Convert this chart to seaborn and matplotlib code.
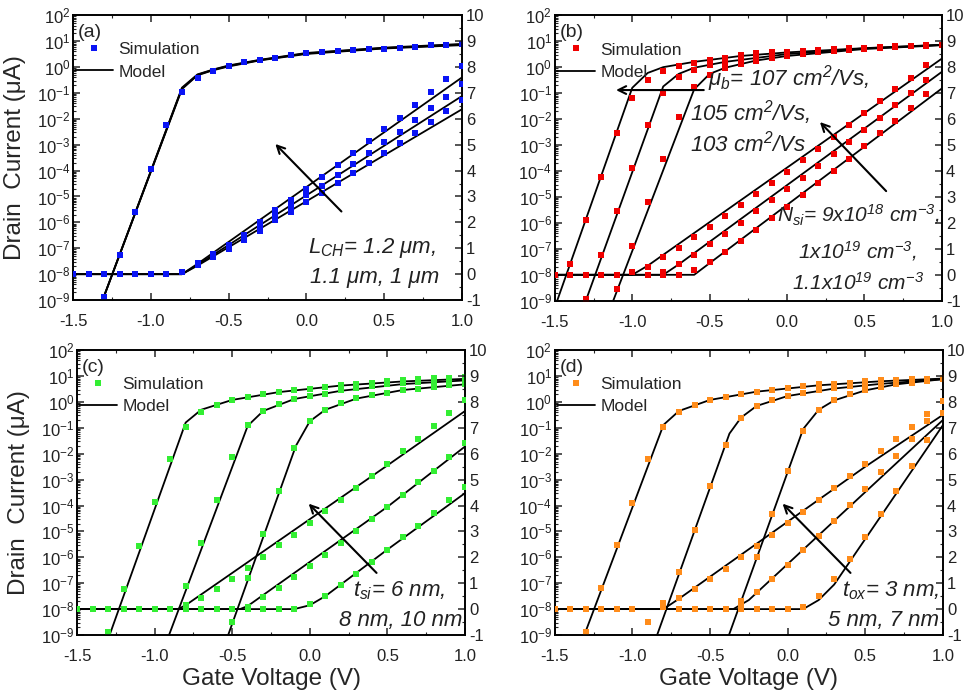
import numpy as np
import matplotlib
matplotlib.use("Agg")
import matplotlib.pyplot as plt
import seaborn as sns
from matplotlib.lines import Line2D
from matplotlib.ticker import LogLocator, NullFormatter, MultipleLocator, FormatStrFormatter

# ---------------- datos ----------------
# (a) variacion de L_CH
a_log_x = [-1.3, -1.2, -1.1, -1.0, -0.9, -0.8, -0.7, -0.6, -0.5, -0.4, -0.3, -0.2,
           -0.1, 0.0, 0.1, 0.2, 0.3, 0.4, 0.5, 0.6, 0.7, 0.8, 0.9, 1.0]
a_log_y = [1.3e-9, 5.4e-8, 2.5e-6, 1.2e-4, 5.8e-3, 0.11, 0.38, 0.72, 1.1, 1.5, 1.8, 2.3,
           2.8, 3.4, 3.8, 4.1, 4.4, 4.8, 5.1, 5.5, 6.2, 6.8, 7.2, 7.6]
a_off_x = [-1.5, -1.4, -1.3, -1.2, -1.1, -1.0, -0.9, -0.8]
a_off_y = [0, 0, 0, 0, 0, 0, 0, 0.09]
a_lin_x = [-0.7, -0.6, -0.5, -0.4, -0.3, -0.2, -0.1, 0.0, 0.1, 0.2, 0.3, 0.4, 0.5, 0.6, 0.7, 0.8, 0.9, 1.0]
a_lin_y1 = [0.35, 0.67, 0.98, 1.33, 1.67, 2.1, 2.4, 2.78, 3.13, 3.51, 3.9, 4.29, 4.68, 5.06, 5.47, 5.88, 6.3, 6.73]
a_lin_y2 = [0.4, 0.72, 1.05, 1.42, 1.85, 2.28, 2.62, 3.05, 3.42, 3.83, 4.26, 4.67, 5.09, 5.51, 5.96, 6.4, 6.86, 7.33]
a_lin_y3 = [0.45, 0.77, 1.12, 1.5, 2.0, 2.46, 2.85, 3.3, 3.77, 4.22, 4.67, 5.13, 5.6, 6.05, 6.54, 7.05, 7.53, 8.04]
a_mlog_x = [-1.31, -0.8, -0.7, -0.6, -0.5, -0.3, 0.0, 0.5, 1.0]
a_mlog_y1 = [1e-9, 0.14, 0.48, 0.75, 1.05, 1.8, 3.2, 5.2, 7.0]
a_mlog_y2 = [1e-9, 0.15, 0.5, 0.78, 1.1, 1.85, 3.35, 5.4, 7.4]
a_mlog_y3 = [1e-9, 0.16, 0.52, 0.8, 1.15, 1.9, 3.5, 5.6, 7.8]
a_mlin_x = [-1.5, -0.8, -0.7, 1.0]
a_mlin_y1 = [0, 0, 0.33, 6.37]
a_mlin_y2 = [0, 0, 0.36, 6.88]
a_mlin_y3 = [0, 0, 0.4, 7.6]

# (b) variacion de mu_b y N_si
b_log_x1 = [-1.4, -1.3, -1.2, -1.1, -1.0, -0.9, -0.8, -0.7, -0.6, -0.5, -0.4, -0.3, -0.2,
            -0.1, 0.0, 0.1, 0.2, 0.3, 0.4, 0.5, 0.6, 0.7, 0.8, 0.9, 1.0]
b_log_y1 = [2.6e-8, 1.3e-6, 6e-5, 2.8e-3, 0.066, 0.32, 0.7, 1.07, 1.47, 1.86, 2.35, 2.9, 3.4,
            3.7, 4.0, 4.3, 4.6, 5.0, 5.3, 5.6, 6.0, 6.3, 6.6, 6.9, 7.1]
b_log_x2 = [-1.3, -1.2, -1.1, -1.0, -0.9, -0.8, -0.7, -0.6, -0.5, -0.4, -0.3, -0.2,
            -0.1, 0.0, 0.1, 0.2, 0.3, 0.4, 0.5, 0.6, 0.7, 0.8, 0.9, 1.0]
b_log_y2 = [1.2e-9, 5.9e-8, 2.9e-6, 1.35e-4, 5.9e-3, 0.1, 0.4, 0.78, 1.2, 1.6, 2.0, 2.4,
            2.9, 3.3, 3.7, 4.1, 4.5, 4.9, 5.3, 5.7, 6.1, 6.5, 6.9, 7.2]
b_log_x3 = [-1.1, -1.0, -0.9, -0.8, -0.7, -0.6, -0.5, -0.4, -0.3, -0.2, -0.1, 0.0,
            0.1, 0.2, 0.3, 0.4, 0.5, 0.6, 0.7, 0.8, 0.9, 1.0]
b_log_y3 = [2.8e-9, 1.3e-7, 6.5e-6, 3e-4, 0.012, 0.166, 0.49, 0.9, 1.38, 1.8, 2.3, 2.8,
            3.3, 3.7, 4.2, 4.6, 5.0, 5.5, 5.9, 6.3, 6.7, 7.0]
b_off_x = [-1.5, -1.4, -1.3, -1.2, -1.1, -0.9, -0.8, -0.7]
b_off_y = [0, 0, 0, 0, 0, 0, 0, 0]
b_lin_x1 = [-1.0, -0.9, -0.8, -0.7, -0.6, -0.5, -0.4, -0.3, -0.2, -0.1, 0.0, 0.1, 0.2, 0.3,
            0.4, 0.5, 0.6, 0.7, 0.8, 0.9]
b_lin_y1 = [0.09, 0.32, 0.68, 1.05, 1.45, 1.86, 2.27, 2.69, 3.12, 3.55, 3.97, 4.42, 4.86, 5.32,
            5.77, 6.22, 6.69, 7.14, 7.6, 8.08]
b_lin_x2 = [-0.8, -0.7, -0.6, -0.5, -0.4, -0.3, -0.2, -0.1, 0.0, 0.1, 0.2, 0.3, 0.4, 0.5,
            0.6, 0.7, 0.8, 0.9]
b_lin_y2 = [0.1, 0.41, 0.77, 1.18, 1.56, 2.01, 2.44, 2.88, 3.29, 3.74, 4.19, 4.65, 5.13, 5.58,
            6.06, 6.54, 7.01, 7.5]
b_lin_x3 = [-0.6, -0.5, -0.4, -0.3, -0.2, -0.1, 0.0, 0.1, 0.2, 0.3, 0.4, 0.5, 0.6, 0.7, 0.8, 0.9]
b_lin_y3 = [0.17, 0.49, 0.87, 1.31, 1.73, 2.18, 2.63, 3.08, 3.54, 4.0, 4.46, 4.96, 5.45, 5.94, 6.44, 6.95]
b_mlog_x1 = [-1.485, -1.0, -0.9, -0.8, -0.6, -0.3, 0.0, 0.5, 1.0]
b_mlog_y1 = [1e-9, 0.16, 0.6, 1.0, 1.6, 2.7, 3.7, 5.4, 7.3]
b_mlog_x2 = [-1.3, -0.8, -0.7, -0.6, -0.4, 0.0, 0.5, 1.0]
b_mlog_y2 = [1e-9, 0.18, 0.55, 0.95, 1.6, 3.2, 5.3, 7.2]
b_mlog_x3 = [-1.123, -0.6, -0.5, -0.4, -0.2, 0.0, 0.5, 1.0]
b_mlog_y3 = [1e-9, 0.14, 0.55, 0.95, 1.8, 2.7, 5.0, 7.0]
b_mlin_x1 = [-1.5, -1.0, -0.9, 1.0]
b_mlin_y1 = [0, 0, 0.35, 8.33]
b_mlin_x2 = [-1.5, -0.8, -0.7, 1.0]
b_mlin_y2 = [0, 0, 0.4, 7.82]
b_mlin_x3 = [-1.5, -0.6, -0.5, 1.0]
b_mlin_y3 = [0, 0, 0.45, 7.18]

# (c) variacion de t_si
c_log_x1 = [-1.3, -1.2, -1.1, -1.0, -0.9, -0.8, -0.7, -0.6, -0.5, -0.4, -0.3, -0.2,
            -0.1, 0.0, 0.1, 0.2, 0.3, 0.4, 0.5, 0.6, 0.7, 0.8, 0.9, 1.0]
c_log_y1 = [1.3e-9, 5.9e-8, 2.8e-6, 1.35e-4, 6.3e-3, 0.11, 0.42, 0.76, 1.17, 1.6, 2.0, 2.45,
            2.9, 3.3, 3.9, 4.5, 5.1, 5.6, 6.3, 6.9, 7.4, 8.1, 8.3, 8.9]
c_log_x2 = [-0.8, -0.7, -0.6, -0.5, -0.4, -0.3, -0.2, -0.1, 0.0, 0.1, 0.2, 0.3, 0.4, 0.5,
            0.6, 0.7, 0.8, 0.9, 1.0]
c_log_y2 = [7.6e-8, 3.7e-6, 1.7e-4, 7.6e-3, 0.13, 0.46, 0.87, 1.26, 1.7, 2.1, 2.9, 3.5, 4.1, 4.9,
            5.5, 6.0, 6.6, 6.9, 7.4]
c_log_x3 = [-0.5, -0.4, -0.3, -0.2, -0.1, 0.0, 0.1, 0.2, 0.3, 0.4, 0.5, 0.6, 0.7, 0.8, 0.9, 1.0]
c_log_y3 = [3.3e-9, 1.6e-7, 7.9e-6, 3.7e-4, 0.016, 0.18, 0.51, 0.95, 1.38, 1.8, 2.3, 2.9,
            3.3, 3.9, 4.5, 4.9]
c_off_x = [-1.5, -1.4, -1.3, -1.2, -1.1, -1.0, -0.9, -0.8, -0.7, -0.6, -0.5, -0.4, -0.3, -0.2, -0.1]
c_off_y = [0, 0, 0, 0, 0, 0, 0, 0, 0, 0, 0, 0, 0, 0, 0]
c_lin_x1 = [-0.8, -0.7, -0.6, -0.5, -0.4, -0.3, -0.2, -0.1, 0.0, 0.1, 0.2, 0.3, 0.4, 0.5,
            0.6, 0.7, 0.8, 0.9, 1.0]
c_lin_y1 = [0.17, 0.42, 0.79, 1.16, 1.58, 2.0, 2.46, 2.87, 3.32, 3.77, 4.22, 4.67, 5.15, 5.61,
            6.09, 6.58, 7.08, 7.57, 8.08]
c_lin_x2 = [-0.4, -0.3, -0.2, -0.1, 0.0, 0.1, 0.2, 0.3, 0.4, 0.5, 0.6, 0.7, 0.8, 0.9, 1.0]
c_lin_y2 = [0.1, 0.45, 0.81, 1.24, 1.67, 2.1, 2.55, 3.0, 3.47, 3.94, 4.41, 4.89, 5.35, 5.87, 6.41]
c_lin_x3 = [0.0, 0.1, 0.2, 0.3, 0.4, 0.5, 0.6, 0.7, 0.8, 0.9, 1.0]
c_lin_y3 = [0.19, 0.51, 0.94, 1.36, 1.81, 2.29, 2.77, 3.22, 3.71, 4.2, 4.7]
c_mlog_x1 = [-1.29, -0.8, -0.7, -0.5, -0.2, 0.2, 0.6, 1.0]
c_mlog_y1 = [1e-9, 0.16, 0.5, 1.2, 2.4, 4.3, 6.2, 7.8]
c_mlog_x2 = [-0.907, -0.4, -0.3, -0.1, 0.2, 0.6, 1.0]
c_mlog_y2 = [1e-9, 0.12, 0.45, 1.3, 2.7, 4.9, 6.8]
c_mlog_x3 = [-0.526, -0.09, 0.0, 0.1, 0.3, 0.6, 1.0]
c_mlog_y3 = [1e-9, 0.02, 0.18, 0.5, 1.35, 2.9, 4.8]
c_mlin_x1 = [-1.5, -0.85, -0.8, 0.5, 1.0]
c_mlin_y1 = [0, 0, 0.15, 5.55, 7.65]
c_mlin_x2 = [-1.5, -0.45, -0.4, 0.5, 1.0]
c_mlin_y2 = [0, 0, 0.12, 3.95, 6.28]
c_mlin_x3 = [-1.5, -0.1, 0.0, 0.1, 0.5, 1.0]
c_mlin_y3 = [0, 0, 0.15, 0.5, 2.3, 4.48]

# (d) variacion de t_ox
d_log_x1 = [-1.3, -1.2, -1.1, -1.0, -0.9, -0.8, -0.7, -0.6, -0.5, -0.4, -0.3, -0.2,
            -0.1, 0.0, 0.1, 0.2, 0.3, 0.4, 0.5, 0.6, 0.7, 0.8, 0.9, 1.0]
d_log_y1 = [1.3e-9, 6.3e-8, 2.9e-6, 1.3e-4, 6.2e-3, 0.11, 0.42, 0.76, 1.17, 1.6, 2.1, 2.45,
            3.0, 3.5, 4.2, 4.8, 5.1, 5.6, 6.3, 6.8, 6.9, 7.4, 7.6, 8.1]
d_log_x2 = [-0.7, -0.6, -0.5, -0.4, -0.3, -0.2, -0.1, 0.0, 0.1, 0.2, 0.3, 0.4, 0.5, 0.6,
            0.7, 0.8, 0.9, 1.0]
d_log_y2 = [2.6e-7, 1.15e-5, 5.6e-4, 0.021, 0.23, 0.69, 1.17, 1.74, 2.3, 2.9, 3.5, 4.2, 4.9, 5.5,
            6.0, 6.6, 6.9, 7.6]
d_log_x3 = [-0.3, -0.2, -0.1, 0.0, 0.1, 0.2, 0.3, 0.4, 0.5, 0.6, 0.7, 0.8, 0.9, 1.0]
d_log_y3 = [2.1e-8, 1.0e-6, 4.7e-5, 2.1e-3, 0.079, 0.49, 1.17, 2.0, 2.9, 3.9, 4.9, 5.6, 6.6, 7.6]
d_off_x = [-1.5, -1.4, -1.3, -1.2, -1.1, -1.0, -0.9, -0.8, -0.7, -0.6, -0.5, -0.4, -0.3,
           -0.2, -0.1, 0.0]
d_off_y = [0, 0, 0, 0, 0, 0, -0.48, 0.1, 0, 0, 0, 0, 0, 0, 0, 0]
d_lin_x1 = [-0.8, -0.7, -0.6, -0.5, -0.4, -0.3, -0.2, -0.1, 0.0, 0.1, 0.2, 0.3, 0.4, 0.5,
            0.6, 0.7, 0.8, 0.9, 1.0]
d_lin_y1 = [0.23, 0.42, 0.77, 1.17, 1.56, 2.01, 2.42, 2.87, 3.32, 3.75, 4.22, 4.67, 5.15, 5.61,
            6.09, 6.58, 7.05, 7.54, 8.04]
d_lin_x2 = [-0.3, -0.2, -0.1, 0.0, 0.1, 0.2, 0.3, 0.4, 0.5, 0.6, 0.7, 0.8, 0.9]
d_lin_y2 = [0.23, 0.66, 1.17, 1.71, 2.27, 2.84, 3.42, 4.03, 4.65, 5.28, 5.92, 6.56, 7.25]
d_lin_x3 = [0.1, 0.2, 0.3, 0.4, 0.5, 0.6, 0.7, 0.8, 0.9, 1.0]
d_lin_y3 = [0.1, 0.49, 1.17, 1.94, 2.78, 3.67, 4.58, 5.53, 6.54, 7.59]
d_mlog_x1 = [-1.31, -0.8, -0.7, -0.5, -0.2, 0.2, 0.6, 1.0]
d_mlog_y1 = [1e-9, 0.13, 0.45, 1.2, 2.5, 4.4, 6.3, 8.0]
d_mlog_x2 = [-0.841, -0.375, -0.3, -0.2, 0.0, 0.3, 0.6, 1.0]
d_mlog_y2 = [1e-9, 0.06, 0.25, 0.7, 1.7, 3.3, 5.0, 7.6]
d_mlog_x3 = [-0.378, 0.1, 0.2, 0.3, 0.5, 0.7, 1.0]
d_mlog_y3 = [1e-9, 0.09, 0.5, 1.15, 2.8, 4.8, 7.6]
d_mlin_x1 = [-1.5, -0.8, -0.7, 0.5, 1.0]
d_mlin_y1 = [0, 0, 0.4, 5.5, 7.5]
d_mlin_x2 = [-1.5, -0.35, -0.25, 1.0]
d_mlin_y2 = [0, 0, 0.35, 7.3]
d_mlin_x3 = [-1.5, 0.1, 0.2, 0.3, 1.0]
d_mlin_y3 = [0, 0, 0.35, 0.95, 7.1]

colores = {"a": "#0a14f5", "b": "#f00000", "c": "#33ee33", "d": "#ff8c1a"}

# ---------------- estilo ----------------
sns.set_theme(style="ticks")
plt.rcParams["font.family"] = ["Liberation Sans", "DejaVu Sans"]
plt.rcParams["mathtext.fontset"] = "custom"
plt.rcParams["mathtext.rm"] = "Liberation Sans:italic"
plt.rcParams["mathtext.it"] = "Liberation Sans:italic"
plt.rcParams["axes.edgecolor"] = "black"
plt.rcParams["axes.linewidth"] = 1.2

fig = plt.figure(figsize=(9.7, 6.93), dpi=100)


def panel(pos, tag, log_sims, lin_sims, off, mlog, mlin, ylabel=False, xlabel=False):
    col = colores[tag]
    ax = fig.add_axes(pos)
    ax.set_yscale("log")
    ax2 = ax.twinx()

    for xs, ys in mlog:
        sns.lineplot(x=xs, y=ys, ax=ax, color="black", lw=1.3, estimator=None, sort=False)
    for xs, ys in mlin:
        sns.lineplot(x=xs, y=ys, ax=ax2, color="black", lw=1.3, estimator=None, sort=False)
    for xs, ys in log_sims:
        sns.scatterplot(x=xs, y=ys, ax=ax, marker="s", s=22, color=col, linewidth=0, zorder=3)
    for xs, ys in lin_sims + [off]:
        sns.scatterplot(x=xs, y=ys, ax=ax2, marker="s", s=22, color=col, linewidth=0, zorder=3)

    ax.set_xlim(-1.5, 1.0)
    ax.set_ylim(1e-9, 1e2)
    ax2.set_ylim(-1, 10)

    ax.yaxis.set_major_locator(LogLocator(base=10, numticks=15))
    ax.yaxis.set_minor_locator(LogLocator(base=10, subs=np.arange(2, 10) * 1.0, numticks=15))
    ax.yaxis.set_minor_formatter(NullFormatter())
    ax.xaxis.set_major_locator(MultipleLocator(0.5))
    ax.xaxis.set_minor_locator(MultipleLocator(0.25))
    ax.xaxis.set_major_formatter(FormatStrFormatter("%.1f"))
    ax2.yaxis.set_major_locator(MultipleLocator(1))
    ax2.yaxis.set_minor_locator(MultipleLocator(0.5))
    ax2.yaxis.set_major_formatter(FormatStrFormatter("%d"))

    ax.tick_params(which="both", direction="in", top=True, labelsize=12, labelcolor="#222222")
    ax.tick_params(which="major", length=5, width=1.1)
    ax.tick_params(which="minor", length=2.5, width=0.8)
    ax.tick_params(axis="x", which="both", pad=10)
    ax.tick_params(axis="y", which="both", pad=2)
    ax2.tick_params(which="both", direction="in", labelsize=12, labelcolor="#222222", pad=3)
    ax2.tick_params(which="major", length=5, width=1.1)
    ax2.tick_params(which="minor", length=2.5, width=0.8)

    ax.set_xlabel("")
    ax.set_ylabel("")
    ax2.set_ylabel("")
    if ylabel:
        ax.set_ylabel("Drain  Current (μA)", fontsize=17.5)
        ax.yaxis.set_label_coords(-0.12, 0.5)
    if xlabel:
        ax.set_xlabel("Gate Voltage (V)", fontsize=17.5)
        ax.xaxis.set_label_coords(0.5, -0.115)

    ax2.text(0.013, 0.968, "(" + tag + ")", transform=ax.transAxes, fontsize=14, va="top")
    handles = [Line2D([], [], ls="none", marker="s", ms=5, color=col, mew=0),
               Line2D([], [], color="black", lw=1.3)]
    ax2.legend(handles, ["Simulation", "Model"], loc="upper left", bbox_to_anchor=(0.005, 0.905),
               frameon=False, fontsize=12.5, handlelength=2.2, handletextpad=0.3,
               labelspacing=0.4, borderpad=0, borderaxespad=0)
    return ax, ax2


def nota(ax, x, y, txt, size=16):
    ax.text(x, y, txt, transform=ax.transAxes, fontsize=size, style="italic",
            ha="left", va="baseline", color="#222222")


def flecha(ax, x0, y0, x1, y1):
    ax.annotate("", xy=(x1, y1), xytext=(x0, y0), xycoords="axes fraction",
                arrowprops=dict(arrowstyle="->", lw=1.5, color="black", mutation_scale=14))


# (a)
ax, ax2 = panel([0.0753, 0.567, 0.401, 0.411], "a",
                [(a_log_x, a_log_y)],
                [(a_lin_x, a_lin_y1), (a_lin_x, a_lin_y2), (a_lin_x, a_lin_y3)],
                (a_off_x, a_off_y),
                [(a_mlog_x, a_mlog_y1), (a_mlog_x, a_mlog_y2), (a_mlog_x, a_mlog_y3)],
                [(a_mlin_x, a_mlin_y1), (a_mlin_x, a_mlin_y2), (a_mlin_x, a_mlin_y3)],
                ylabel=True)
flecha(ax2, 0.695, 0.304, 0.515, 0.555)
nota(ax2, 0.605, 0.165, r"$L_{CH}$= 1.2 μm,")
nota(ax2, 0.610, 0.059, "1.1 μm, 1 μm")

# (b)
ax, ax2 = panel([0.572, 0.566, 0.399, 0.412], "b",
                [(b_log_x1, b_log_y1), (b_log_x2, b_log_y2), (b_log_x3, b_log_y3)],
                [(b_lin_x1, b_lin_y1), (b_lin_x2, b_lin_y2), (b_lin_x3, b_lin_y3)],
                (b_off_x, b_off_y),
                [(b_mlog_x1, b_mlog_y1), (b_mlog_x2, b_mlog_y2), (b_mlog_x3, b_mlog_y3)],
                [(b_mlin_x1, b_mlin_y1), (b_mlin_x2, b_mlin_y2), (b_mlin_x3, b_mlin_y3)])
flecha(ax2, 0.392, 0.738, 0.151, 0.738)
nota(ax2, 0.396, 0.755, r"$\mu_b$= 107 cm$^2$/Vs,")
nota(ax2, 0.349, 0.633, r"105 cm$^2$/Vs,")
nota(ax2, 0.349, 0.522, r"103 cm$^2$/Vs")
flecha(ax2, 0.861, 0.377, 0.680, 0.633)
nota(ax2, 0.573, 0.274, r"$N_{si}$= 9x10$^{18}$ cm$^{-3}$,", size=15)
nota(ax2, 0.629, 0.149, r"1x10$^{19}$ cm$^{-3}$,", size=15)
nota(ax2, 0.612, 0.038, r"1.1x10$^{19}$ cm$^{-3}$", size=15)

# (c)
ax, ax2 = panel([0.0794, 0.0837, 0.400, 0.411], "c",
                [(c_log_x1, c_log_y1), (c_log_x2, c_log_y2), (c_log_x3, c_log_y3)],
                [(c_lin_x1, c_lin_y1), (c_lin_x2, c_lin_y2), (c_lin_x3, c_lin_y3)],
                (c_off_x, c_off_y),
                [(c_mlog_x1, c_mlog_y1), (c_mlog_x2, c_mlog_y2), (c_mlog_x3, c_mlog_y3)],
                [(c_mlin_x1, c_mlin_y1), (c_mlin_x2, c_mlin_y2), (c_mlin_x3, c_mlin_y3)],
                ylabel=True, xlabel=True)
flecha(ax2, 0.777, 0.211, 0.592, 0.468)
nota(ax2, 0.712, 0.134, r"$t_{si}$= 6 nm,")
nota(ax2, 0.674, 0.032, "8 nm, 10 nm")

# (d)
ax, ax2 = panel([0.572, 0.0837, 0.400, 0.411], "d",
                [(d_log_x1, d_log_y1), (d_log_x2, d_log_y2), (d_log_x3, d_log_y3)],
                [(d_lin_x1, d_lin_y1), (d_lin_x2, d_lin_y2), (d_lin_x3, d_lin_y3)],
                (d_off_x, d_off_y),
                [(d_mlog_x1, d_mlog_y1), (d_mlog_x2, d_mlog_y2), (d_mlog_x3, d_mlog_y3)],
                [(d_mlin_x1, d_mlin_y1), (d_mlin_x2, d_mlin_y2), (d_mlin_x3, d_mlin_y3)],
                xlabel=True)
flecha(ax2, 0.767, 0.211, 0.582, 0.468)
nota(ax2, 0.739, 0.134, r"$t_{ox}$= 3 nm,")
nota(ax2, 0.705, 0.032, "5 nm, 7 nm")

fig.savefig("out.png", dpi=100)
